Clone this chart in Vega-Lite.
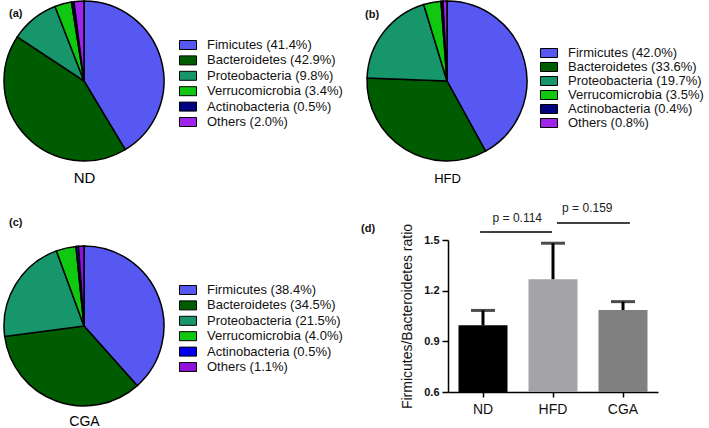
{
  "$schema": "https://vega.github.io/schema/vega-lite/v6.json",
  "padding": {"left": 1, "top": -2, "right": 0, "bottom": 0},
  "background": "#ffffff",
  "spacing": 17,
  "config": {
    "view": {"stroke": null},
    "font": "Liberation Sans",
    "title": {"font": "Liberation Sans", "fontSize": 11, "fontWeight": "bold", "color": "#111111", "anchor": "start", "orient": "top", "baseline": "middle", "frame": "group"}
  },
  "datasets": {
    "pies": [
      {"panel": "ND", "phylum": "Firmicutes", "label": "Fimicutes (41.4%)", "pct": 41.4, "order": 1},
      {"panel": "ND", "phylum": "Bacteroidetes", "label": "Bacteroidetes (42.9%)", "pct": 42.9, "order": 2},
      {"panel": "ND", "phylum": "Proteobacteria", "label": "Proteobacteria (9.8%)", "pct": 9.8, "order": 3},
      {"panel": "ND", "phylum": "Verrucomicrobia", "label": "Verrucomicrobia (3.4%)", "pct": 3.4, "order": 4},
      {"panel": "ND", "phylum": "Actinobacteria", "label": "Actinobacteria (0.5%)", "pct": 0.5, "order": 5},
      {"panel": "ND", "phylum": "Others", "label": "Others (2.0%)", "pct": 2.0, "order": 6},
      {"panel": "HFD", "phylum": "Firmicutes", "label": "Firmicutes (42.0%)", "pct": 42.0, "order": 1},
      {"panel": "HFD", "phylum": "Bacteroidetes", "label": "Bacteroidetes (33.6%)", "pct": 33.6, "order": 2},
      {"panel": "HFD", "phylum": "Proteobacteria", "label": "Proteobacteria (19.7%)", "pct": 19.7, "order": 3},
      {"panel": "HFD", "phylum": "Verrucomicrobia", "label": "Verrucomicrobia (3.5%)", "pct": 3.5, "order": 4},
      {"panel": "HFD", "phylum": "Actinobacteria", "label": "Actinobacteria (0.4%)", "pct": 0.4, "order": 5},
      {"panel": "HFD", "phylum": "Others", "label": "Others (0.8%)", "pct": 0.8, "order": 6},
      {"panel": "CGA", "phylum": "Firmicutes", "label": "Firmicutes (38.4%)", "pct": 38.4, "order": 1},
      {"panel": "CGA", "phylum": "Bacteroidetes", "label": "Bacteroidetes (34.5%)", "pct": 34.5, "order": 2},
      {"panel": "CGA", "phylum": "Proteobacteria", "label": "Proteobacteria (21.5%)", "pct": 21.5, "order": 3},
      {"panel": "CGA", "phylum": "Verrucomicrobia", "label": "Verrucomicrobia (4.0%)", "pct": 4.0, "order": 4},
      {"panel": "CGA", "phylum": "Actinobacteria", "label": "Actinobacteria (0.5%)", "pct": 0.5, "order": 5},
      {"panel": "CGA", "phylum": "Others", "label": "Others (1.1%)", "pct": 1.1, "order": 6}
    ],
    "bars": [
      {"group": "ND", "mean": 0.995, "upper": 1.083},
      {"group": "HFD", "mean": 1.268, "upper": 1.481},
      {"group": "CGA", "mean": 1.085, "upper": 1.135}
    ],
    "pvals": [
      {"id": 1, "from": "ND", "to": "HFD", "level": 1.547, "textLevel": 1.63, "label": "p = 0.114"},
      {"id": 2, "from": "HFD", "to": "CGA", "level": 1.601, "textLevel": 1.689, "label": "p = 0.159"}
    ]
  },
  "resolve": {"scale": {"color": "independent", "x": "independent", "y": "independent", "theta": "independent"}, "legend": {"color": "independent"}},
  "vconcat": [
    {
      "spacing": 20,
      "resolve": {"scale": {"color": "independent", "x": "independent", "y": "independent", "theta": "independent"}, "legend": {"color": "independent"}},
      "hconcat": [
        {
          "width": 160, "height": 160,
          "title": {"text": "(a)", "offset": -21, "dx": 5},
          "data": {"name": "pies"},
          "transform": [{"filter": "datum.panel === 'ND'"}],
          "mark": {"type": "arc", "stroke": "#000000", "strokeWidth": 1.5, "radius": 80},
          "encoding": {
            "x": {"field": "panel", "type": "nominal", "axis": {"title": null, "labelAngle": 0, "domain": false, "ticks": false, "grid": false, "labelFont": "Liberation Sans", "labelFontSize": 15, "labelColor": "#000000", "labelPadding": 9}},
            "theta": {"field": "pct", "type": "quantitative", "stack": true},
            "order": {"field": "order", "type": "quantitative"},
            "color": {
              "field": "label", "type": "nominal",
              "scale": {"domain": ["Fimicutes (41.4%)", "Bacteroidetes (42.9%)", "Proteobacteria (9.8%)", "Verrucomicrobia (3.4%)", "Actinobacteria (0.5%)", "Others (2.0%)"],
                        "range": ["#5757f2", "#005c00", "#16966a", "#10c810", "#000080", "#a024ec"]},
              "legend": {"orient": "none", "legendX": 177.5, "legendY": 37.5, "title": null, "padding": 0,
                         "symbolType": "M-1.42,-0.75L1.42,-0.75L1.42,0.75L-1.42,0.75Z", "symbolSize": 144,
                         "symbolStrokeColor": "#000000", "symbolStrokeWidth": 1,
                         "labelFont": "Liberation Sans", "labelFontSize": 13, "labelColor": "#111111",
                         "labelOffset": 12.5, "rowPadding": 1.4, "labelLimit": 300}
            }
          }
        },
        {
          "width": 160, "height": 160,
          "title": {"text": "(b)", "offset": -22, "dx": -2},
          "data": {"name": "pies"},
          "transform": [{"filter": "datum.panel === 'HFD'"}],
          "mark": {"type": "arc", "stroke": "#000000", "strokeWidth": 1.5, "radius": 80},
          "encoding": {
            "x": {"field": "panel", "type": "nominal", "axis": {"title": null, "labelAngle": 0, "domain": false, "ticks": false, "grid": false, "labelFont": "Liberation Sans", "labelFontSize": 13, "labelColor": "#000000", "labelPadding": 11}},
            "theta": {"field": "pct", "type": "quantitative", "stack": true},
            "order": {"field": "order", "type": "quantitative"},
            "color": {
              "field": "label", "type": "nominal",
              "scale": {"domain": ["Firmicutes (42.0%)", "Bacteroidetes (33.6%)", "Proteobacteria (19.7%)", "Verrucomicrobia (3.5%)", "Actinobacteria (0.4%)", "Others (0.8%)"],
                        "range": ["#5757f2", "#005c00", "#16966a", "#10c810", "#000080", "#a024ec"]},
              "legend": {"orient": "none", "legendX": 175.5, "legendY": 45.5, "title": null, "padding": 0,
                         "symbolType": "M-1.42,-0.75L1.42,-0.75L1.42,0.75L-1.42,0.75Z", "symbolSize": 144,
                         "symbolStrokeColor": "#000000", "symbolStrokeWidth": 1,
                         "labelFont": "Liberation Sans", "labelFontSize": 13, "labelColor": "#111111",
                         "labelOffset": 12.5, "rowPadding": 0, "labelLimit": 300}
            }
          }
        }
      ]
    },
    {
      "spacing": 17,
      "resolve": {"scale": {"color": "independent", "x": "independent", "y": "independent", "theta": "independent"}, "legend": {"color": "independent"}},
      "hconcat": [
        {
          "width": 160, "height": 172,
          "title": {"text": "(c)", "offset": 12, "dx": 5},
          "data": {"name": "pies"},
          "transform": [{"filter": "datum.panel === 'CGA'"}],
          "mark": {"type": "arc", "stroke": "#000000", "strokeWidth": 1.5, "radius": 80},
          "encoding": {
            "x": {"field": "panel", "type": "nominal", "axis": {"title": null, "labelAngle": 0, "domain": false, "ticks": false, "grid": false, "labelFont": "Liberation Sans", "labelFontSize": 14, "labelColor": "#000000", "labelPadding": 2}},
            "theta": {"field": "pct", "type": "quantitative", "stack": true},
            "order": {"field": "order", "type": "quantitative"},
            "color": {
              "field": "label", "type": "nominal",
              "scale": {"domain": ["Firmicutes (38.4%)", "Bacteroidetes (34.5%)", "Proteobacteria (21.5%)", "Verrucomicrobia (4.0%)", "Actinobacteria (0.5%)", "Others (1.1%)"],
                        "range": ["#5757f2", "#005c00", "#16966a", "#10c810", "#0000ee", "#9010dc"]},
              "legend": {"orient": "none", "legendX": 177.5, "legendY": 43.5, "title": null, "padding": 0,
                         "symbolType": "M-1.42,-0.75L1.42,-0.75L1.42,0.75L-1.42,0.75Z", "symbolSize": 144,
                         "symbolStrokeColor": "#000000", "symbolStrokeWidth": 1,
                         "labelFont": "Liberation Sans", "labelFontSize": 13, "labelColor": "#111111",
                         "labelOffset": 12.5, "rowPadding": 1.4, "labelLimit": 300}
            }
          }
        },
        {
          "width": 210, "height": 152,
          "title": {"text": "(d)", "offset": -32, "dx": -87},
          "layer": [
            {
              "data": {"name": "bars"},
              "mark": {"type": "bar"},
              "encoding": {
                "x": {"field": "group", "type": "nominal", "scale": {"domain": ["ND", "HFD", "CGA"], "paddingInner": 0.3, "paddingOuter": 0.15},
                      "axis": {"title": null, "labelAngle": 0, "labelFont": "Liberation Sans", "labelFontSize": 14, "labelColor": "#111111", "labelPadding": 5, "tickSize": 5, "tickColor": "#000000", "tickWidth": 1.5, "domainColor": "#000000", "domainWidth": 1.5, "grid": false}},
                "y": {"field": "mean", "type": "quantitative", "scale": {"domain": [0.6, 1.5], "nice": false, "zero": false},
                      "axis": {"values": [0.6, 0.9, 1.2, 1.5], "format": ".1f", "title": "Firmicutes/Bacteroidetes ratio", "titleFont": "Liberation Sans", "titleFontSize": 14, "titleFontWeight": "normal", "titleColor": "#111111", "titlePadding": 9,
                               "labelFont": "Liberation Sans", "labelFontSize": 11, "labelFontWeight": "bold", "labelColor": "#111111", "labelPadding": 3, "tickSize": 6, "tickColor": "#000000", "tickWidth": 1.5, "domainColor": "#000000", "domainWidth": 1.5, "grid": false}},
                "y2": {"datum": 0.6},
                "color": {"field": "group", "type": "nominal", "scale": {"domain": ["ND", "HFD", "CGA"], "range": ["#000000", "#a4a4a8", "#808080"]}, "legend": null}
              }
            },
            {
              "data": {"name": "bars"},
              "mark": {"type": "rule", "color": "#000000", "strokeWidth": 3},
              "encoding": {
                "x": {"field": "group", "type": "nominal"},
                "y": {"field": "mean", "type": "quantitative"},
                "y2": {"field": "upper"}
              }
            },
            {
              "data": {"name": "bars"},
              "mark": {"type": "tick", "color": "#000000", "thickness": 3, "size": 24, "orient": "horizontal"},
              "encoding": {
                "x": {"field": "group", "type": "nominal"},
                "y": {"field": "upper", "type": "quantitative"}
              }
            },
            {
              "data": {"name": "pvals"},
              "transform": [{"filter": "datum.id === 1"}],
              "mark": {"type": "rule", "color": "#000000", "strokeWidth": 1.5},
              "encoding": {
                "x": {"field": "from", "type": "nominal", "bandPosition": 0.44},
                "x2": {"field": "to", "bandPosition": 0.48},
                "y": {"field": "level", "type": "quantitative"}
              }
            },
            {
              "data": {"name": "pvals"},
              "transform": [{"filter": "datum.id === 2"}],
              "mark": {"type": "rule", "color": "#000000", "strokeWidth": 1.5},
              "encoding": {
                "x": {"field": "from", "type": "nominal", "bandPosition": 0.58},
                "x2": {"field": "to", "bandPosition": 0.64},
                "y": {"field": "level", "type": "quantitative"}
              }
            },
            {
              "data": {"name": "pvals"},
              "mark": {"type": "text", "font": "Liberation Sans", "fontSize": 12, "color": "#222222", "baseline": "middle", "align": "center"},
              "encoding": {
                "x": {"field": "from", "type": "nominal", "bandPosition": 1.2},
                "y": {"field": "textLevel", "type": "quantitative"},
                "text": {"field": "label"}
              }
            }
          ]
        }
      ]
    }
  ]
}
